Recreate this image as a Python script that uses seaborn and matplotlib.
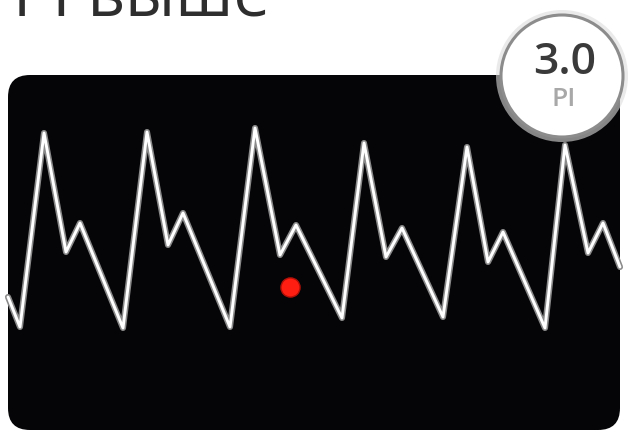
import numpy as np
import pandas as pd
import matplotlib
matplotlib.use('Agg')
import matplotlib.pyplot as plt
import matplotlib.patheffects as pe
from matplotlib.patches import FancyBboxPatch, Circle
import seaborn as sns

# pleth waveform (pixel space, y grows downward)
t = [8, 20, 44, 66, 80, 123, 147, 168, 183, 230, 255, 280, 296, 342, 364,
     386, 402, 443, 467, 488, 503, 545, 565, 588, 603, 620]
pleth = [297, 327, 133, 252, 223, 328, 132, 245, 213, 327, 128, 255, 225, 318,
         143, 257, 228, 317, 147, 262, 232, 328, 145, 253, 223, 267]

# pulse marker
dot_t = [290]
dot_y = [287]

title = 'PI выше'
pi_value = '3.0'
pi_label = 'PI'

sns.set_style('white')
plt.rcParams['font.family'] = ['Open Sans', 'DejaVu Sans']

fig = plt.figure(figsize=(6.29, 4.33), dpi=100)
ax = fig.add_axes([0, 0, 1, 1])
ax.set_xlim(0, 629)
ax.set_ylim(433, 0)
ax.axis('off')

# black screen
panel = FancyBboxPatch((8, 75), 612, 355, boxstyle='round,pad=0,rounding_size=22',
                       fc='#050407', ec='none', zorder=1)
ax.add_patch(panel)

df = pd.DataFrame({'t': t, 'pleth': pleth})
sns.lineplot(data=df, x='t', y='pleth', sort=False, ax=ax, color='white',
             lw=2.1, zorder=3, solid_joinstyle='round', solid_capstyle='round',
             path_effects=[pe.withStroke(linewidth=4.4, foreground='#8a8a8a')])

sns.scatterplot(x=dot_t, y=dot_y, ax=ax, s=190, color='#ff1e12',
                edgecolor='#b01008', linewidth=1, zorder=4)

# PI badge
ax.add_patch(Circle((562, 76), 66, fc='#dcdcdc', ec='none', alpha=0.6, zorder=5))
ax.add_patch(Circle((562, 76), 61, fc='white', ec='#8c8c8c', lw=2.2, zorder=6))
ax.text(565, 62, pi_value, ha='center', va='center', fontsize=32,
        fontweight='semibold', color='#3a3a3a', zorder=7)
ax.text(564, 99, pi_label, ha='center', va='center', fontsize=19,
        fontweight='semibold', color='#a8a8a8', zorder=7)

# heading, cropped at the top edge as in the source image
ax.text(13, 15, title, ha='left', va='baseline', fontsize=47,
        color='#2e2e2e', zorder=7)

ax.set_xlabel('')
ax.set_ylabel('')
fig.savefig('out.png', dpi=100)
